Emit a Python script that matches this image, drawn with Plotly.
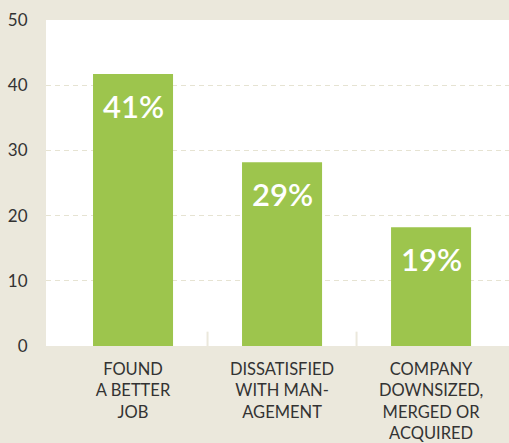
import plotly.graph_objects as go

categories = ["FOUND<br>A BETTER<br>JOB", "DISSATISFIED<br>WITH MAN-<br>AGEMENT", "COMPANY<br>DOWNSIZED,<br>MERGED OR<br>ACQUIRED"]
values = [41.7, 28.2, 18.2]
value_labels = ["41%", "29%", "19%"]
y_ticks = [0, 10, 20, 30, 40, 50]

BG = "#ebe8dc"
GREEN = "#9dc54d"
GRID = "#e6e3d2"
FONT = "Lato"
TXT = "#333333"

xs = list(range(len(categories)))

fig = go.Figure()
fig.add_trace(go.Bar(x=xs, y=values, width=0.537, marker=dict(color=GREEN, line=dict(width=0)),
                     hoverinfo="skip"))

for x, v, t in zip(xs, values, value_labels):
    fig.add_annotation(x=x, y=v, text=t, showarrow=False, yanchor="middle", yshift=-32,
                       font=dict(family=FONT, size=31, color="white", weight=600))

# boundary tick marks between categories
for b in [0.5, 1.5]:
    fig.add_shape(type="line", x0=b, x1=b, xref="x", yref="y", y0=0, y1=2.2,
                  line=dict(color=BG, width=2), layer="below")

fig.update_layout(
    width=509, height=443,
    margin=dict(l=46, r=0, t=20, b=97),
    paper_bgcolor=BG, plot_bgcolor="white",
    showlegend=False,
    xaxis=dict(range=[-0.584, 2.523], tickvals=xs, ticktext=categories, showgrid=False,
               zeroline=False, ticks="outside", ticklen=8, tickcolor="rgba(0,0,0,0)",
               automargin=False,
               tickfont=dict(family=FONT, size=16.5, color=TXT), fixedrange=True),
    yaxis=dict(range=[0, 50], tickvals=y_ticks, showgrid=True, gridcolor=GRID, griddash="5px,4px",
               gridwidth=1, zeroline=False, ticks="outside", ticklen=14, tickcolor="rgba(0,0,0,0)",
               automargin=False,
               tickfont=dict(family=FONT, size=17, color=TXT), fixedrange=True),
)

fig.write_html("out.html")
